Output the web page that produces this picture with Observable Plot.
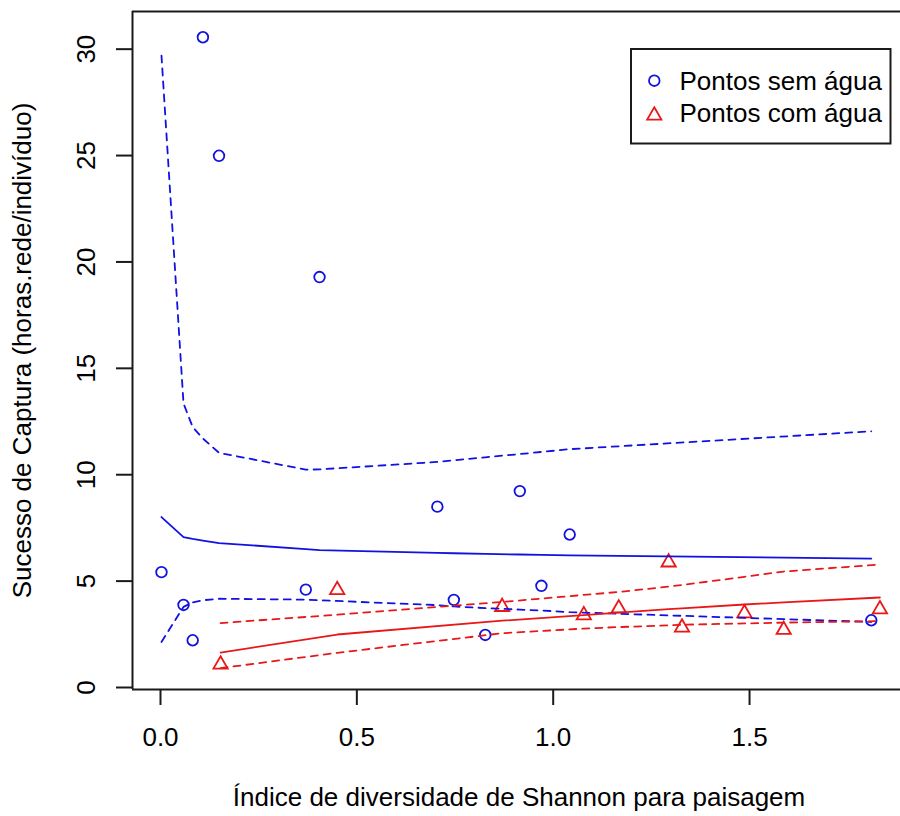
<!DOCTYPE html>
<html><head><meta charset="utf-8">
<script src="https://cdn.jsdelivr.net/npm/d3@7"></script>
<script src="https://cdn.jsdelivr.net/npm/@observablehq/plot@0.6"></script>
<style>html,body{margin:0;padding:0;background:#fff;} svg{display:block}</style>
</head><body><div id="chart"></div>
<script>
// ---- data ----
const blueX   = [0.0025, 0.0586, 0.082, 0.108, 0.149, 0.370, 0.405, 0.705, 0.747, 0.827, 0.915, 0.970, 1.042, 1.810];
const blueY   = [5.42, 3.88, 2.22, 30.56, 24.99, 4.60, 19.29, 8.50, 4.12, 2.47, 9.23, 4.78, 7.19, 3.16];
const blueFit = [8.01, 7.07, 6.98, 6.90, 6.79, 6.50, 6.46, 6.33, 6.31, 6.28, 6.25, 6.23, 6.21, 6.06];
const blueHi  = [29.7, 13.35, 12.24, 11.7, 11.03, 10.24, 10.25, 10.6, 10.68, 10.82, 10.97, 11.07, 11.2, 12.04];
const blueLo  = [2.14, 3.79, 4.00, 4.10, 4.17, 4.13, 4.10, 3.87, 3.81, 3.73, 3.66, 3.62, 3.54, 3.08];

const redX    = [0.153, 0.450, 0.870, 1.078, 1.167, 1.294, 1.328, 1.487, 1.587, 1.832];
const redY    = [1.08, 4.58, 3.79, 3.40, 3.72, 5.88, 2.82, 3.49, 2.71, 3.68];
const redFit  = [1.64, 2.49, 3.14, 3.40, 3.52, 3.68, 3.72, 3.90, 4.00, 4.23];
const redHi   = [3.03, 3.42, 4.02, 4.35, 4.49, 4.74, 4.82, 5.20, 5.45, 5.78];
const redLo   = [0.91, 1.63, 2.55, 2.77, 2.84, 2.92, 2.95, 3.01, 3.05, 3.12];

const xTicks = [0, 0.5, 1.0, 1.5];
const yTicks = [0, 5, 10, 15, 20, 25, 30];
const xTitle = "Índice de diversidade de Shannon para paisagem";
const yTitle = "Sucesso de Captura (horas.rede/indivíduo)";
const legendLabels = ["Pontos sem água", "Pontos com água"];

// ---- build ----
const FONT = "'Liberation Sans', Arial, Helvetica, sans-serif";
const BLUE = "#1212e0", RED = "#e81818", INK = "#1a1a1a";
const xDomain = [-0.0713, 1.8844];
const yDomain = [-0.094, 31.77];

const blue = blueX.map((x, i) => ({x, y: blueY[i], fit: blueFit[i], hi: blueHi[i], lo: blueLo[i]}));
const red = redX.map((x, i) => ({x, y: redY[i], fit: redFit[i], hi: redHi[i], lo: redLo[i]}));

// R pch=2 triangle (centroid-centred)
const rTriangle = {draw(ctx, size) {
  const R = Math.sqrt(size / Math.PI);
  const r = 1.5551 * R, xc = 1.3468 * R, yc = 0.7776 * R;
  ctx.moveTo(0, -r); ctx.lineTo(xc, yc); ctx.lineTo(-xc, yc); ctx.closePath();
}};

const dash = "7,6", LW = 1.8, PR = 5.3, FS = 26;

const chart = Plot.plot({
  width: 900, height: 816,
  marginLeft: 132, marginRight: 0, marginTop: 11, marginBottom: 127,
  style: {fontFamily: FONT, fontSize: "26px", background: "#fff", color: "#000", overflow: "visible"},
  x: {domain: xDomain, axis: null},
  y: {domain: yDomain, axis: null},
  marks: [
    Plot.axisX({ticks: xTicks, tickSize: 16, tickFormat: () => "", label: null, stroke: INK, strokeWidth: 2}),
    Plot.axisY({ticks: yTicks, tickSize: 16, tickFormat: () => "", label: null, stroke: INK, strokeWidth: 2}),
    Plot.text(xTicks, {x: d => d, frameAnchor: "bottom", dy: 48.3, textAnchor: "middle", lineAnchor: "middle", fontSize: FS, text: d => d3.format(".1f")(d), fill: "#000"}),
    Plot.text(yTicks, {y: d => d, frameAnchor: "left", dx: -45.5, rotate: -90, textAnchor: "middle", lineAnchor: "middle", fontSize: FS, text: d => String(d), fill: "#000"}),
    Plot.text([xTitle], {frameAnchor: "bottom", dx: 2.5, dy: 108.5, textAnchor: "middle", lineAnchor: "middle", fontSize: FS, text: d => d, fill: "#000"}),
    Plot.text([yTitle], {frameAnchor: "left", dx: -109.5, rotate: -90, textAnchor: "middle", lineAnchor: "middle", fontSize: FS, text: d => d, fill: "#000"}),
    Plot.ruleY([yDomain[1]], {stroke: INK, strokeWidth: 2}),
    Plot.ruleY([yDomain[0]], {stroke: INK, strokeWidth: 2}),
    Plot.ruleX([xDomain[0]], {stroke: INK, strokeWidth: 2}),
    Plot.dot(blue, {x: "x", y: "y", r: PR, stroke: BLUE, strokeWidth: LW, fill: "none"}),
    Plot.dot(red, {x: "x", y: "y", r: PR, symbol: rTriangle, stroke: RED, strokeWidth: LW, fill: "none"}),
    Plot.line(blue, {x: "x", y: "fit", stroke: BLUE, strokeWidth: LW}),
    Plot.line(blue, {x: "x", y: "hi", stroke: BLUE, strokeWidth: LW, strokeDasharray: dash}),
    Plot.line(blue, {x: "x", y: "lo", stroke: BLUE, strokeWidth: LW, strokeDasharray: dash}),
    Plot.line(red, {x: "x", y: "fit", stroke: RED, strokeWidth: LW}),
    Plot.line(red, {x: "x", y: "hi", stroke: RED, strokeWidth: LW, strokeDasharray: dash}),
    Plot.line(red, {x: "x", y: "lo", stroke: RED, strokeWidth: LW, strokeDasharray: dash})
  ]
});
document.getElementById("chart").appendChild(chart);

// legend (inside plot, top-right)
const svg = d3.select(chart);
const lg = svg.append("g").attr("font-family", FONT).attr("font-size", FS).attr("text-anchor", "start");
lg.append("rect").attr("x", 631).attr("y", 49).attr("width", 259.5).attr("height", 94.5)
  .attr("fill", "#fff").attr("stroke", INK).attr("stroke-width", 2);
lg.append("circle").attr("cx", 654.3).attr("cy", 80.7).attr("r", PR)
  .attr("fill", "none").attr("stroke", BLUE).attr("stroke-width", LW);
const tp = d3.path(); rTriangle.draw(tp, PR * PR * Math.PI);
lg.append("path").attr("d", tp.toString()).attr("transform", "translate(654.3,115.5)")
  .attr("fill", "none").attr("stroke", RED).attr("stroke-width", LW);
legendLabels.forEach((t, i) => {
  lg.append("text").attr("x", 679.5).attr("y", 90 + i * 31.7).attr("fill", "#000")
    .style("text-anchor", "start").text(t);
});
</script>
</body></html>
